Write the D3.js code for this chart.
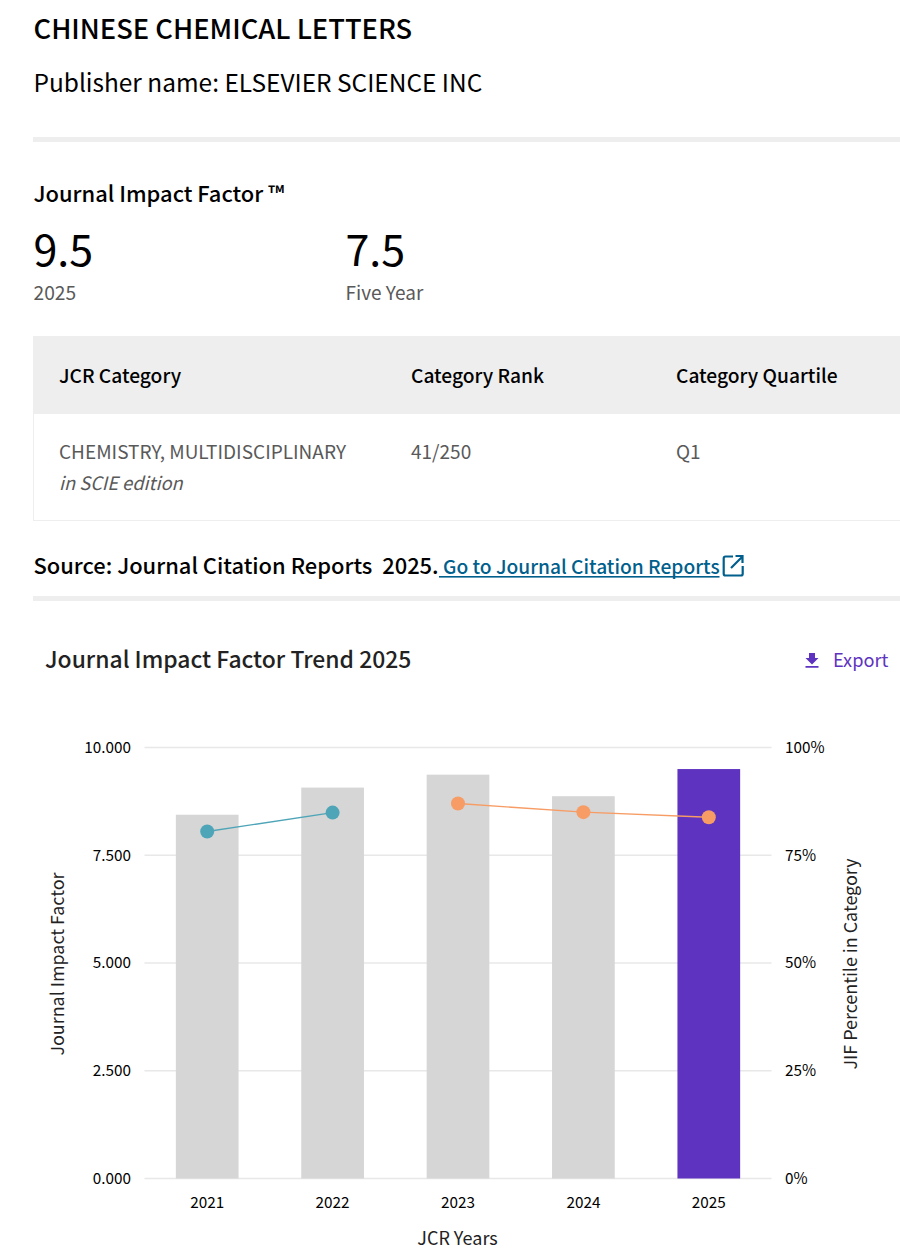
<!DOCTYPE html>
<html>
<head>
<meta charset="utf-8">
<script src="https://cdn.jsdelivr.net/npm/d3@7"></script>
<style>
html, body { margin: 0; padding: 0; background: #fff; overflow: hidden; }
svg { display: block; }
text { font-family: "Noto Sans CJK SC", "Noto Sans", sans-serif; fill: #000; }
.axis .domain { display: none; }
.axis line { display: none; }
.axis text { font-size: 15.3px; font-family: "Noto Sans CJK SC", "Noto Sans", sans-serif; }
</style>
</head>
<body>
<div class="chart"></div>
<script>
const years = [2021, 2022, 2023, 2024, 2025];
const impactFactor = [8.44, 9.07, 9.37, 8.87, 9.5];
const percentile = [80.5, 84.9, 87.0, 85.0, 83.8];
const lineGroups = [[0, 1], [2, 3, 4]];
const lineColors = ['#4fa5b8', '#f79c64'];
const leftTicks = [0, 2.5, 5, 7.5, 10];
const rightTicks = [0, 25, 50, 75, 100];

const width = 900, height = 1257;
const svg = d3.select(".chart").append("svg")
    .attr("width", width)
    .attr("height", height);

function label(x, y, str, size, opts) {
    opts = opts || {};
    return svg.append("text")
        .attr("x", x)
        .attr("y", y)
        .attr("font-size", size)
        .attr("font-weight", opts.weight || 400)
        .attr("font-style", opts.italic ? "italic" : null)
        .attr("text-anchor", opts.anchor || "start")
        .style("fill", opts.fill || "#000")
        .style("font-family", opts.family || null)
        .text(str);
}

function band(x, y, w, h, fill) {
    svg.append("rect").attr("x", x).attr("y", y).attr("width", w).attr("height", h).attr("fill", fill);
}

// header
label(33.5, 39, "CHINESE CHEMICAL LETTERS", 27.3, {weight: 500});
label(33.5, 92, "Publisher name: ELSEVIER SCIENCE INC", 24.45);
band(33, 137, 867, 5, "#eeeeee");

label(33.5, 202, "Journal Impact Factor \u2122", 21.9, {weight: 500});
label(33.5, 266, "9.5", 43);
label(345.5, 266, "7.5", 43);
label(33.5, 300, "2025", 19.2, {fill: "#595959"});
label(345.5, 300, "Five Year", 19, {fill: "#595959"});

// table
band(33, 336, 867, 78, "#eeeeee");
label(59, 383, "JCR Category", 19.2, {weight: 500});
label(411, 383, "Category Rank", 19.2, {weight: 500});
label(676, 383, "Category Quartile", 19.2, {weight: 500});
label(59, 459, "CHEMISTRY, MULTIDISCIPLINARY", 19, {fill: "#595959"});
label(59, 490, "in SCIE edition", 18.3, {fill: "#595959", italic: true});
label(411, 459, "41/250", 19, {fill: "#595959"});
label(676, 459, "Q1", 19, {fill: "#595959"});
band(33, 414, 1, 107, "#eeeeee");
band(33, 520, 867, 1, "#eeeeee");

// source line
label(33.5, 574, "Source: Journal Citation Reports  2025.", 21.9, {weight: 500}).style("white-space", "pre");
label(443, 574, "Go to Journal Citation Reports", 19.2, {fill: "#005f8c", weight: 500});
band(439, 576, 280.500, 1.6, "#005f8c");
svg.append("path")
    .attr("d", "M733 556.5h-7.5a1.8 1.8 0 0 0-1.8 1.8v15.4a1.8 1.8 0 0 0 1.8 1.8h15.4a1.8 1.8 0 0 0 1.8-1.8V566M731 568l11-11M735.500 556h7v7")
    .attr("fill", "none")
    .attr("stroke", "#005f8c")
    .attr("stroke-width", 2.2);
band(33, 596, 867, 5, "#eeeeee");

// chart heading
label(45, 668, "Journal Impact Factor Trend 2025", 22.9, {weight: 500, fill: "#222"});
svg.append("path")
    .attr("d", "M809 653h6v5h3.500l-6.500 6.500l-6.500-6.500h3.500zM805.500 666h13v1.800h-13z")
    .attr("fill", "#5e33bf");
label(833, 666.500, "Export", 18.200, {fill: "#5e33bf"});

// plot
const plot = {left: 144.500, right: 771.500, top: 747.500, bottom: 1178.500};

const xScale = d3.scaleBand()
    .domain(years)
    .range([plot.left, plot.right])
    .paddingInner(0.5)
    .paddingOuter(0.25);

const yScale = d3.scaleLinear().domain([0, 10]).range([plot.bottom, plot.top]);
const pctScale = d3.scaleLinear().domain([0, 100]).range([plot.bottom, plot.top]);

svg.append("g")
    .selectAll("line")
    .data(leftTicks)
    .join("line")
    .attr("x1", plot.left)
    .attr("x2", plot.right)
    .attr("y1", d => yScale(d))
    .attr("y2", d => yScale(d))
    .attr("stroke", "#e8e8e8")
    .attr("stroke-width", 1.6);

svg.append("g")
    .selectAll("rect")
    .data(years)
    .join("rect")
    .attr("x", d => xScale(d))
    .attr("y", (d, i) => yScale(impactFactor[i]))
    .attr("width", xScale.bandwidth())
    .attr("height", (d, i) => plot.bottom - yScale(impactFactor[i]))
    .attr("fill", (d, i) => i === years.length - 1 ? "#5e33bf" : "#d6d6d6");

const xCenter = d => xScale(d) + xScale.bandwidth() / 2;
const line = d3.line()
    .x(i => xCenter(years[i]))
    .y(i => pctScale(percentile[i]));

lineGroups.forEach((group, k) => {
    svg.append("path")
        .attr("d", line(group))
        .attr("fill", "none")
        .attr("stroke", lineColors[k])
        .attr("stroke-width", 1.4);
    svg.append("g")
        .selectAll("circle")
        .data(group)
        .join("circle")
        .attr("cx", i => xCenter(years[i]))
        .attr("cy", i => pctScale(percentile[i]))
        .attr("r", 7)
        .attr("fill", lineColors[k]);
});

// axes
svg.append("g")
    .attr("class", "axis")
    .attr("transform", "translate(" + 131 + ",0)")
    .call(d3.axisLeft(yScale).tickValues(leftTicks).tickFormat(d3.format(".3f")).tickSize(0).tickPadding(0));

svg.append("g")
    .attr("class", "axis")
    .attr("transform", "translate(" + 785 + ",0)")
    .call(d3.axisRight(pctScale).tickValues(rightTicks).tickFormat(d => d + "%").tickSize(0).tickPadding(0));

svg.append("g")
    .attr("class", "axis")
    .attr("transform", "translate(0," + 1197 + ")")
    .call(d3.axisBottom(xScale).tickSize(0).tickPadding(0));

label(457.500, 1245, "JCR Years", 18, {anchor: "middle", fill: "#222"});
label(0, 0, "Journal Impact Factor", 17.900, {anchor: "middle", fill: "#222"})
    .attr("transform", "translate(64,964) rotate(-90)");
label(0, 0, "JIF Percentile in Category", 17.900, {anchor: "middle", fill: "#222"})
    .attr("transform", "translate(857,964) rotate(-90)");
</script>
</body>
</html>
